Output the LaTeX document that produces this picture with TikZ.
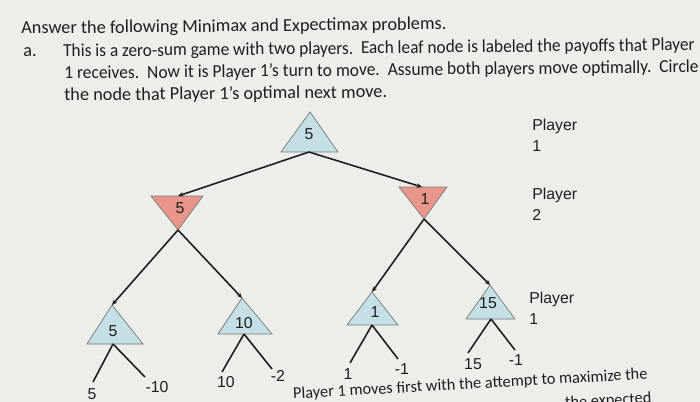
\documentclass[tikz,border=0pt]{standalone}
\usepackage{fontspec}
\setmainfont{Carlito}
\newfontfamily\arialfont{Liberation Sans}
\usetikzlibrary{arrows.meta}
\definecolor{maxblue}{RGB}{197,223,230}
\definecolor{minred}{RGB}{232,150,140}
\definecolor{paper}{RGB}{236,238,234}
\definecolor{ink}{RGB}{30,30,30}

\begin{document}
\begin{tikzpicture}[x=0.02cm, y=-0.02cm, >={Stealth[length=3pt,width=2.6pt]},
  edge/.style={draw=ink, line width=0.9pt},
  maxtri/.style={fill=maxblue, draw=ink!60, line width=0.4pt},
  mintri/.style={fill=minred, draw=ink!60, line width=0.4pt},
  val/.style={font=\arialfont\fontsize{9}{11}\selectfont, text=ink, inner sep=0pt},
  txt/.style={font=\fontsize{10.4}{12.5}\selectfont, text=ink, inner sep=0pt, anchor=base west, rotate=0.6},
  plabel/.style={font=\arialfont\fontsize{9}{12}\selectfont, text=ink, inner sep=0pt, align=left, anchor=north west}]
  \useasboundingbox (0,0) rectangle (700,402);
  \fill[paper] (0,0) rectangle (700,402);

  % question text
  \node[txt] (title) at (21,34) {Answer the following Minimax and Expectimax problems.};
  \node[txt] (item)  at (23,57) {a.};
  \node[txt, xscale=0.945] (q1) at (63,57) {This is a zero-sum game with two players.\ \ Each leaf node is labeled the payoffs that Player};
  \node[txt, xscale=0.955] (q2) at (64,79) {1 receives.\ \ Now it is Player 1's turn to move.\ \ Assume both players move optimally.\ \ Circle};
  \node[txt] (q3) at (64,101) {the node that Player 1's optimal next move.};

  % triangles
  \draw[maxtri] (281,152) -- (310,112) -- (338,152) -- cycle;
  \draw[mintri] (151,196) -- (203,196) -- (178,230) -- cycle;
  \draw[mintri] (399,187) -- (447,187) -- (424,219) -- cycle;
  \draw[maxtri] (87,344)  -- (112,305) -- (143,344) -- cycle;
  \draw[maxtri] (218,334) -- (242,298) -- (272,334) -- cycle;
  \draw[maxtri] (347,325) -- (372,292) -- (398,325) -- cycle;
  \draw[maxtri] (466,319) -- (490,285) -- (515,319) -- cycle;

  \coordinate (rootB) at (309,152);
  \coordinate (lminT) at (178,196);
  \coordinate (lminB) at (178,230);
  \coordinate (rminT) at (422,187);
  \coordinate (rminB) at (424,219);
  \coordinate (aT) at (112,305);
  \coordinate (aB) at (113,344);
  \coordinate (bT) at (242,298);
  \coordinate (bB) at (244,334);
  \coordinate (cT) at (372,292);
  \coordinate (cB) at (372,325);
  \coordinate (dT) at (490,285);
  \coordinate (dB) at (491,319);

  \node[val] (root) at (309,134) {5};
  \node[val] (lmin) at (180,208) {5};
  \node[val] (rmin) at (425,199) {1};
  \node[val] (amax) at (113,331) {5};
  \node[val] (bmax) at (244,323) {10};
  \node[val] (cmax) at (375,312) {1};
  \node[val] (dmax) at (488,303) {15};

  % leaves
  \coordinate (a1) at (93,382);
  \coordinate (a2) at (145,377);
  \coordinate (b1) at (222,372);
  \coordinate (b2) at (272,369);
  \coordinate (c1) at (350,363);
  \coordinate (c2) at (398,359);
  \coordinate (d1) at (468,353);
  \coordinate (d2) at (515,350);
  \node[val] (la1) at (92,394)  {5};
  \node[val] (la2) at (157,387) {-10};
  \node[val] (lb1) at (226,382) {10};
  \node[val] (lb2) at (278,376) {-2};
  \node[val] (lc1) at (348,374) {1};
  \node[val] (lc2) at (402,369) {-1};
  \node[val] (ld1) at (473,364) {15};
  \node[val] (ld2) at (516,360) {-1};

  % edges
  \draw[edge,->] (rootB) -- (lminT);
  \draw[edge,->] (rootB) -- (rminT);
  \draw[edge,->] (lminB) -- (aT);
  \draw[edge,->] (lminB) -- (bT);
  \draw[edge,->] (rminB) -- (cT);
  \draw[edge,->] (rminB) -- (dT);
  \draw[edge] (aB) -- (a1);
  \draw[edge] (aB) -- (a2);
  \draw[edge] (bB) -- (b1);
  \draw[edge] (bB) -- (b2);
  \draw[edge] (cB) -- (c1);
  \draw[edge] (cB) -- (c2);
  \draw[edge] (dB) -- (d1);
  \draw[edge] (dB) -- (d2);

  % players
  \node[plabel] (p1) at (532,119) {Player\\1};
  \node[plabel] (p2) at (532,188) {Player\\2};
  \node[plabel] (p3) at (529,292) {Player\\1};

  % cut-off text at the bottom
  \node[txt, font=\fontsize{9.3}{11}\selectfont, anchor=base east, rotate=2.6] (b1txt) at (648,379) {Player 1 moves first with the attempt to maximize the};
  \node[txt, font=\fontsize{9.3}{11}\selectfont, anchor=base east, rotate=2.6] (b2txt) at (652,403) {the expected};
\end{tikzpicture}
\end{document}
